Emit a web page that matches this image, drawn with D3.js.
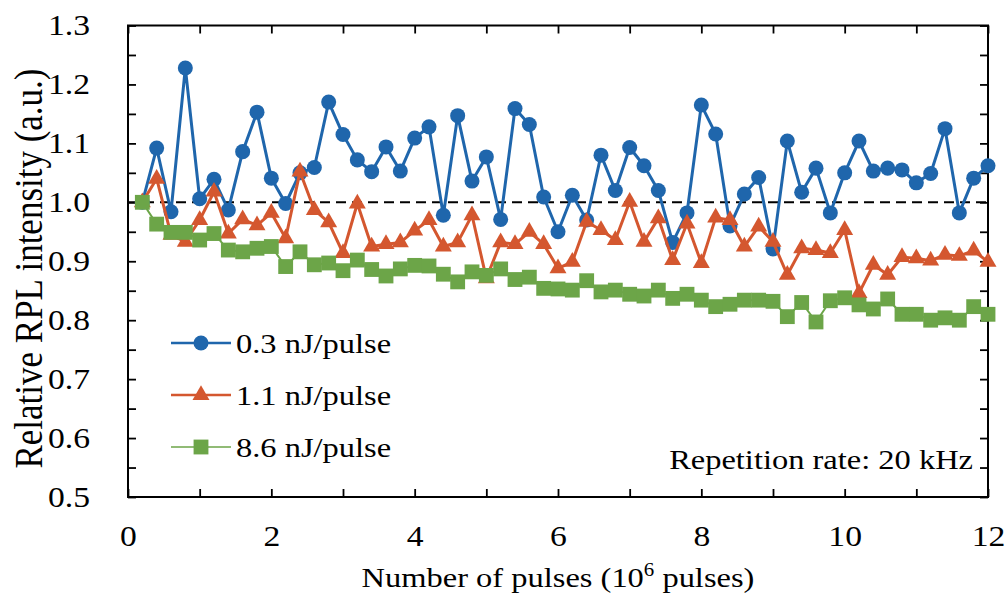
<!DOCTYPE html>
<html>
<head>
<meta charset="utf-8">
<script src="https://cdnjs.cloudflare.com/ajax/libs/d3/7.8.5/d3.min.js"></script>
<style>
    body { margin: 0; background: #fff; }
    svg text { font-family: "Liberation Serif", "Times New Roman", serif; fill: #000; }
</style>
</head>
<body>
<svg id="chart" width="1006" height="596"></svg>
<script>

//  number of pulses, in 10^6 pulses
var pulses = [
    0.2, 0.4, 0.6, 0.8, 1.0, 1.2, 1.4, 1.6, 1.8, 2.0,
    2.2, 2.4, 2.6, 2.8, 3.0, 3.2, 3.4, 3.6, 3.8, 4.0,
    4.2, 4.4, 4.6, 4.8, 5.0, 5.2, 5.4, 5.6, 5.8, 6.0,
    6.2, 6.4, 6.6, 6.8, 7.0, 7.2, 7.4, 7.6, 7.8, 8.0,
    8.2, 8.4, 8.6, 8.8, 9.0, 9.2, 9.4, 9.6, 9.8, 10.0,
    10.2, 10.4, 10.6, 10.8, 11.0, 11.2, 11.4, 11.6, 11.8, 12.0
];

var rpl_0_3 = [
    1.000, 1.092, 0.984, 1.228, 1.006, 1.039, 0.987, 1.086, 1.153, 1.041,
    0.998, 1.050, 1.059, 1.170, 1.115, 1.072, 1.052, 1.094, 1.053, 1.109,
    1.128, 0.978, 1.147, 1.036, 1.077, 0.971, 1.159, 1.132, 1.009, 0.950,
    1.012, 0.970, 1.080, 1.020, 1.093, 1.062, 1.020, 0.932, 0.982, 1.165,
    1.116, 0.960, 1.014, 1.042, 0.921, 1.104, 1.017, 1.058, 0.982, 1.050,
    1.104, 1.053, 1.058, 1.055, 1.033, 1.049, 1.125, 0.982, 1.041, 1.062
];

var rpl_1_1 = [
    1.000, 1.040, 0.945, 0.933, 0.970, 1.018, 0.947, 0.971, 0.961, 0.982,
    0.939, 1.052, 0.987, 0.966, 0.914, 0.998, 0.925, 0.929, 0.932, 0.952,
    0.970, 0.925, 0.932, 0.978, 0.871, 0.932, 0.929, 0.950, 0.929, 0.888,
    0.899, 0.967, 0.953, 0.936, 1.001, 0.933, 0.973, 0.902, 0.964, 0.897,
    0.974, 0.970, 0.925, 0.959, 0.933, 0.877, 0.922, 0.919, 0.914, 0.953,
    0.846, 0.894, 0.877, 0.907, 0.905, 0.901, 0.911, 0.909, 0.918, 0.899
];

var rpl_8_6 = [
    1.000, 0.963, 0.949, 0.949, 0.936, 0.947, 0.919, 0.916, 0.922, 0.925,
    0.891, 0.916, 0.894, 0.897, 0.884, 0.902, 0.886, 0.875, 0.887, 0.893,
    0.892, 0.878, 0.865, 0.882, 0.876, 0.887, 0.869, 0.873, 0.854, 0.853,
    0.851, 0.867, 0.848, 0.851, 0.844, 0.841, 0.851, 0.837, 0.844, 0.834,
    0.823, 0.827, 0.834, 0.834, 0.832, 0.806, 0.830, 0.797, 0.833, 0.838,
    0.826, 0.819, 0.836, 0.810, 0.810, 0.800, 0.804, 0.800, 0.823, 0.810
];

var series_names = ['0.3 nJ/pulse', '1.1 nJ/pulse', '8.6 nJ/pulse'];

var x_ticks = [0, 1, 2, 3, 4, 5, 6, 7, 8, 9, 10, 11, 12];
var y_ticks = [0.5, 0.55, 0.6, 0.65, 0.7, 0.75, 0.8, 0.85, 0.9, 0.95,
               1.0, 1.05, 1.1, 1.15, 1.2, 1.25, 1.3];

var series = [
    { 'name' : series_names[0], 'values' : rpl_0_3, 'color' : '#1f66ac', 'symbol' : d3.symbolCircle,   'size' : 177, 'width' : 3 },
    { 'name' : series_names[1], 'values' : rpl_1_1, 'color' : '#d4572f', 'symbol' : d3.symbolTriangle, 'size' : 125, 'width' : 3 },
    { 'name' : series_names[2], 'values' : rpl_8_6, 'color' : '#6ca548', 'symbol' : d3.symbolSquare,   'size' : 220, 'width' : 2 }
];

var stretch = 1.16;  // the picture is wider than it is tall, so is its text

var plot = { left : 128, right : 988, top : 25.5, bottom : 497 };

var x = d3.scaleLinear().domain([0, 12]).range([plot.left, plot.right]);
var y = d3.scaleLinear().domain([0.5, 1.3]).range([plot.bottom, plot.top]);

var svg = d3.select('#chart');


function styleAxis(g, font_size) {

    g.attr('font-family', null).attr('font-size', null);
    g.select('.domain').remove();
    g.selectAll('.tick line').attr('stroke', '#000').attr('stroke-width', 1.8);
    g.selectAll('.tick text').style('font-size', font_size + 'px');

    return g;
}


//  axes, ticks all point inward
var x_axis = svg.append('g')
    .attr('transform', 'translate(0,' + plot.bottom + ')')
    .call(d3.axisBottom(x)
        .tickValues(x_ticks)
        .tickSize(-8)
        .tickPadding(28)
        .tickFormat(function(d) { return d % 2 === 0 ? d : ''; }));

styleAxis(x_axis, 29);
x_axis.selectAll('.tick text').attr('transform', 'scale(' + stretch + ',1)');

var y_axis = svg.append('g')
    .attr('transform', 'translate(' + plot.left + ',0)')
    .call(d3.axisLeft(y)
        .tickValues(y_ticks)
        .tickSize(-8)
        .tickPadding(38)
        .tickFormat(function(d) {
            return Math.round(d * 100) % 10 === 0 ? d3.format('.1f')(d) : '';
        }));

styleAxis(y_axis, 29);
y_axis.selectAll('.tick text')
    .attr('x', 0)
    .attr('transform', 'translate(-38,0) scale(' + stretch + ',1)');

styleAxis(svg.append('g')
    .attr('transform', 'translate(0,' + plot.top + ')')
    .call(d3.axisTop(x).tickValues(x_ticks).tickSize(-8).tickFormat('')), 29);

styleAxis(svg.append('g')
    .attr('transform', 'translate(' + plot.right + ',0)')
    .call(d3.axisRight(y).tickValues(y_ticks).tickSize(-8).tickFormat('')), 29);

svg.append('rect')
    .attr('x', plot.left)
    .attr('y', plot.top)
    .attr('width', plot.right - plot.left)
    .attr('height', plot.bottom - plot.top)
    .attr('fill', 'none')
    .attr('stroke', '#000')
    .attr('stroke-width', 2);


//  reference line at 1.0
svg.append('line')
    .attr('x1', x(0))
    .attr('x2', x(12))
    .attr('y1', y(1))
    .attr('y2', y(1))
    .attr('stroke', '#000')
    .attr('stroke-width', 2)
    .attr('stroke-dasharray', '10,6');


var line = d3.line()
    .x(function(d) { return x(d[0]); })
    .y(function(d) { return y(d[1]); });

for (var i = 0; i < series.length; i++) {

    var s = series[i];
    var points = d3.zip(pulses, s.values);

    var g = svg.append('g').attr('class', 'series');

    g.append('path')
        .datum(points)
        .attr('d', line)
        .attr('fill', 'none')
        .attr('stroke', s.color)
        .attr('stroke-width', s.width)
        .attr('stroke-linejoin', 'round');

    g.selectAll('.marker')
        .data(points)
        .enter()
        .append('path')
        .attr('class', 'marker')
        .attr('d', d3.symbol().type(s.symbol).size(s.size))
        .attr('transform', function(d) { return 'translate(' + x(d[0]) + ',' + y(d[1]) + ')'; })
        .attr('fill', s.color);
}


//  legend
var legend_rows = [343, 395, 447];

for (var i = 0; i < series.length; i++) {

    var s = series[i];
    var row = svg.append('g').attr('transform', 'translate(0,' + legend_rows[i] + ')');

    row.append('line')
        .attr('x1', 171)
        .attr('x2', 231)
        .attr('stroke', s.color)
        .attr('stroke-width', s.width - 0.5);

    row.append('path')
        .attr('d', d3.symbol().type(s.symbol).size(s.size))
        .attr('transform', 'translate(201,0)')
        .attr('fill', s.color);

    row.append('text')
        .attr('transform', 'translate(236,9.5) scale(' + stretch + ',1)')
        .style('font-size', '28px')
        .text(s.name);
}


svg.append('text')
    .attr('transform', 'translate(973,469) scale(' + stretch + ',1)')
    .attr('text-anchor', 'end')
    .style('font-size', '28px')
    .text('Repetition rate: 20 kHz');


//  axis titles
var x_title = svg.append('text')
    .attr('transform', 'translate(' + ((plot.left + plot.right) / 2) + ',587) scale(' + stretch + ',1)')
    .attr('text-anchor', 'middle')
    .style('font-size', '28px');

x_title.append('tspan').text('Number of pulses (10');
x_title.append('tspan').attr('dy', -11).style('font-size', '18px').text('6');
x_title.append('tspan').attr('dy', 11).text(' pulses)');

svg.append('text')
    .attr('transform', 'translate(41.5,268.5) scale(' + stretch + ',1) rotate(-90)')
    .attr('text-anchor', 'middle')
    .style('font-size', '35px')
    .text('Relative RPL intensity (a.u.)');

</script>
</body>
</html>
